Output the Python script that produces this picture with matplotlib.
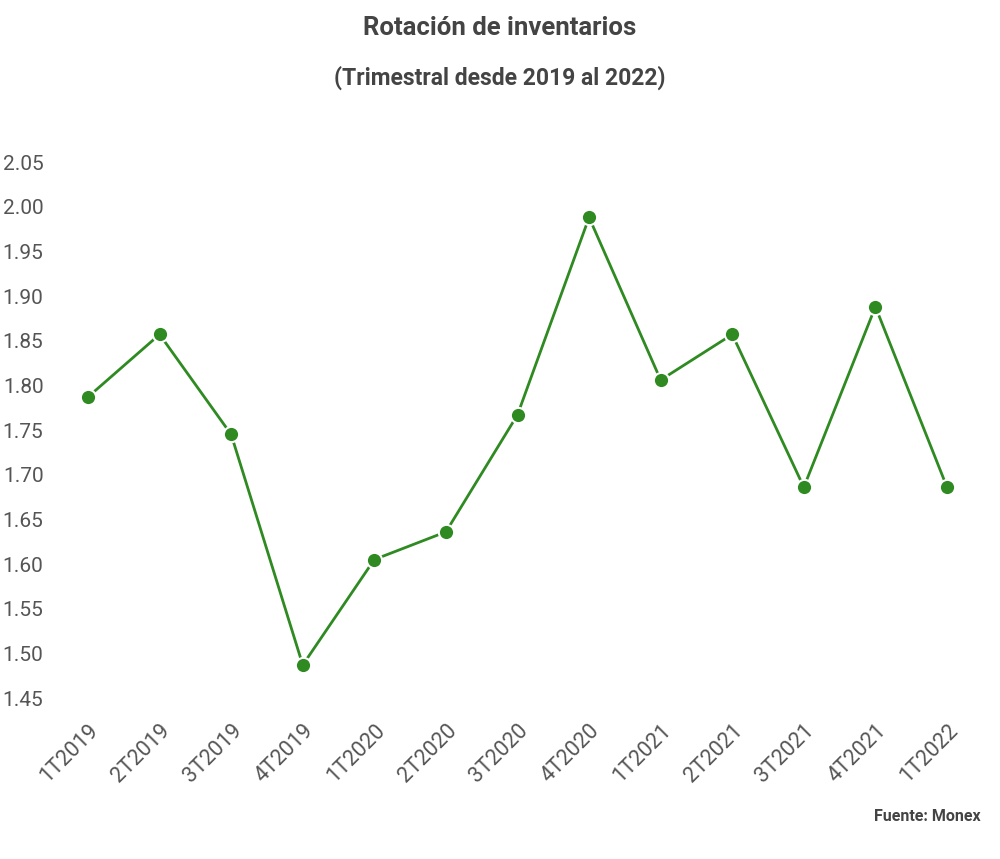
import matplotlib
matplotlib.use("Agg")
import matplotlib.pyplot as plt

# Datos: rotación de inventarios trimestral
trimestres = ["1T2019", "2T2019", "3T2019", "4T2019", "1T2020", "2T2020", "3T2020",
              "4T2020", "1T2021", "2T2021", "3T2021", "4T2021", "1T2022"]
rotacion = [1.787, 1.857, 1.745, 1.487, 1.605, 1.636, 1.767, 1.988, 1.806, 1.857, 1.686, 1.888, 1.686]
ticks_y = [1.45, 1.50, 1.55, 1.60, 1.65, 1.70, 1.75, 1.80, 1.85, 1.90, 1.95, 2.00, 2.05]

plt.rcParams['font.family'] = ['Roboto', 'DejaVu Sans']
gris = '#555555'
verde = '#2f8a22'

fig = plt.figure(figsize=(10, 8.59), dpi=100)
ax = fig.add_axes([0.088, 0.1874, 0.859, 0.624])

x = list(range(len(trimestres)))
ax.plot(x, rotacion, color=verde, linewidth=2, marker='o', markersize=11,
        markerfacecolor=verde, markeredgecolor='white', markeredgewidth=1.5,
        clip_on=False, zorder=3)

ax.set_xlim(0, len(trimestres) - 1)
ax.set_ylim(1.45, 2.05)
ax.set_yticks(ticks_y)
ax.set_yticklabels([f"{v:.2f}" for v in ticks_y])
ax.set_xticks(x)
ax.set_xticklabels(trimestres, rotation=45, ha='right', rotation_mode='anchor')

for s in ax.spines.values():
    s.set_visible(False)
ax.tick_params(axis='both', length=0, colors=gris)
ax.tick_params(axis='y', labelsize=15, pad=32)
ax.tick_params(axis='x', labelsize=15.5, pad=16)

fig.text(0.5, 0.967, "Rotación de inventarios", ha='center', va='center',
         fontsize=18.5, fontweight='bold', color='#444444')
fig.text(0.5, 0.909, "(Trimestral desde 2019 al 2022)", ha='center', va='center',
         fontsize=16.5, fontweight='bold', color='#444444')
fig.text(0.981, 0.05, "Fuente: Monex", ha='right', va='center',
         fontsize=11.5, fontweight='bold', color='#444444')

fig.savefig("out.png", dpi=100)
